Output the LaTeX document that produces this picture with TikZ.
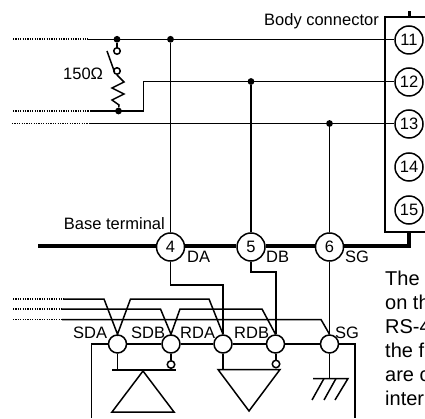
\documentclass[tikz,border=0pt]{standalone}
\usepackage{fontspec}
\setmainfont{Liberation Sans}
\tikzset{
  wire/.style={line width=1.5pt,line join=miter},
  bus/.style={line width=3.6pt},
  dots/.style={line width=1.6pt,dash pattern=on 1.2pt off 1.2pt},
  pin/.style={circle,draw,line width=1.5pt,fill=white,minimum size=28pt,inner sep=0pt,font=\fontsize{16.5}{18}\selectfont},
  port/.style={circle,draw,line width=1.5pt,fill=white,minimum size=18pt,inner sep=0pt},
  ring/.style={circle,draw,line width=1.5pt,fill=white,minimum size=7.5pt,inner sep=0pt},
  joint/.style={circle,fill=black,minimum size=6.8pt,inner sep=0pt},
  lbl/.style={inner sep=0pt,font=\fontsize{16.5}{18}\selectfont,text=black},
  para/.style={anchor=base west,inner sep=0pt,font=\fontsize{20}{24}\selectfont,text=black}
}
\begin{document}
\begin{tikzpicture}[x=1pt,y=-1pt]
\useasboundingbox (0,0) rectangle (425,419);
% body connector
\coordinate (bodyTL) at (385,17);
\coordinate (bodyTR) at (425,17);
\coordinate (bodyBL) at (385,232);
\coordinate (bodyBR) at (425,232);
\coordinate (tabB) at (409,17);
\coordinate (tabT) at (409,11);
\draw[wire] (bodyTR) -- (bodyTL) -- (bodyBL) -- (bodyBR);
\draw[line width=3pt] (tabB) -- (tabT);
\node[pin] (p11) at (409,40) {11};
\node[pin] (p12) at (409,82) {12};
\node[pin] (p13) at (409,124) {13};
\node[pin] (p14) at (409,167) {14};
\node[pin] (p15) at (409,210) {15};
% base terminal
\node[pin] (p4) at (170.5,247) {4};
\node[pin] (p5) at (251,247) {5};
\node[pin] (p6) at (329.5,247) {6};
\coordinate (busL) at (38,246);
\coordinate (busC) at (409,246);
\coordinate (busT) at (409,232);
\draw[bus] (busL) -- (p4.west |- busL);
\draw[bus] (p4.east |- busL) -- (p5.west |- busL);
\draw[bus] (p5.east |- busL) -- (p6.west |- busL);
\draw[bus] (p6.east |- busL) -- (busC) -- (busT);
% top wires
\coordinate (a0) at (13,39.3);
\coordinate (a1) at (88,39.3);
\coordinate (b0) at (13,111);
\coordinate (b1) at (91,111);
\coordinate (b2) at (143.5,111);
\coordinate (b3) at (143.5,81.5);
\coordinate (c0) at (12,123.5);
\coordinate (c1) at (90,123.5);
\draw[dots] (a0) -- (a1);
\draw[dots] (b0) -- (b1);
\draw[dots] (c0) -- (c1);
\draw[wire] (a1) -- (a1 -| p11.west);
\draw[wire] (b1) -- (b2) -- (b3) -- (b3 -| p12.west);
\draw[wire] (c1) -- (c1 -| p13.west);
\node[joint] (ja) at (117,39.3) {};
\node[joint] (jd) at (170.5,39.3) {};
\node[joint] (jb) at (118.5,111) {};
\node[joint] (je) at (251,81.5) {};
\node[joint] (jf) at (329.5,123.5) {};
\draw[wire] (jd) -- (p4);
\draw[wire] (je) -- (p5);
\draw[wire] (jf) -- (p6);
% switch and resistor
\node[ring,minimum size=6.5pt] (s1) at (117,51) {};
\node[ring,minimum size=6.5pt] (s2) at (117,71) {};
\coordinate (armT) at (107,51);
\coordinate (armB) at (114.5,72);
\draw[wire] (ja) -- (s1);
\draw[wire] (armT) -- (armB);
\draw[wire] (s2.south) -- (124,82) -- (112,88) -- (124,94) -- (112,100) -- (119,105) -- (jb);
\node[lbl,anchor=base west] (ohm) at (63,80) {150Ω};
\node[lbl,anchor=base east] (bodyL) at (379,26) {Body connector};
\node[lbl,anchor=base east] (baseL) at (165,230) {Base terminal};
\node[lbl,anchor=base west] (daL) at (187,262.5) {DA};
\node[lbl,anchor=base west] (dbL) at (266,262.5) {DB};
\node[lbl,anchor=base west] (sgL) at (345,262.5) {SG};
% interface box and ports
\node[port] (sda) at (117.5,344) {};
\node[port] (sdb) at (171,344) {};
\node[port] (rda) at (223,344) {};
\node[port] (rdb) at (275.5,344) {};
\node[port] (sg) at (329.5,344) {};
\coordinate (boxBL) at (91.7,418);
\coordinate (boxTL) at (91.7,344);
\coordinate (boxTR) at (355,344);
\coordinate (boxBR) at (355,418);
\draw[wire] (boxBL) -- (boxTL) -- (sda.west);
\draw[wire] (sda.east) -- (sdb.west);
\draw[wire] (sdb.east) -- (rda.west);
\draw[wire] (rda.east) -- (rdb.west);
\draw[wire] (rdb.east) -- (sg.west);
\draw[wire] (sg.east) -- (boxTR) -- (boxBR);
\node[lbl,anchor=base west] (lsda) at (73,338) {SDA};
\node[lbl,anchor=base west] (lsdb) at (131,338) {SDB};
\node[lbl,anchor=base west] (lrda) at (180,338) {RDA};
\node[lbl,anchor=base west] (lrdb) at (234,338) {RDB};
\node[lbl,anchor=base west] (lsg) at (335,338) {SG};
% base to ports
\coordinate (k4a) at (170.5,285);
\coordinate (k4b) at (223,285);
\coordinate (k5a) at (251,272);
\coordinate (k5b) at (276,272);
\draw[wire] (p4.south) -- (k4a) -- (k4b) -- (rda.north);
\draw[wire] (p5.south) -- (k5a) -- (k5b) -- (rdb.north -| k5b);
\draw[wire] (p6.south) -- (sg.north);
% incoming bundle
\coordinate (d0) at (13,299);
\coordinate (d1) at (64,299);
\coordinate (d2) at (104,299);
\coordinate (d3) at (130.5,299);
\coordinate (d4) at (209,299);
\coordinate (e0) at (13,309);
\coordinate (e1) at (62,309);
\coordinate (e2) at (160.5,309);
\coordinate (e3) at (180,309);
\coordinate (e4) at (262,309);
\coordinate (f0) at (13,319.5);
\coordinate (f1) at (62,319.5);
\coordinate (f2) at (321,319.5);
\draw[dots] (d0) -- (d1);
\draw[dots] (e0) -- (e1);
\draw[dots] (f0) -- (f1);
\draw[wire] (d1) -- (d2) -- (sda.north) -- (d3) -- (d4) -- (rda.north);
\draw[wire] (e1) -- (e2) -- (sdb.north) -- (e3) -- (e4) -- (rdb.north);
\draw[wire] (f1) -- (f2) -- (sg.north);
% driver
\coordinate (drvL) at (112,370);
\coordinate (drvR) at (176,370);
\coordinate (drvA) at (143,371);
\coordinate (drvBL) at (112,412);
\coordinate (drvBR) at (174,412);
\node[ring] (rsdb) at (171,364.5) {};
\draw[wire] (sda.south) -- (sda.south |- drvL);
\draw[wire] (sdb.south) -- (rsdb.north);
\draw[wire] (drvL) -- (drvR);
\draw[wire] (drvA) -- (drvBL) -- (drvBR) -- cycle;
% receiver
\coordinate (rcvL) at (218,369.5);
\coordinate (rcvR) at (280,369.5);
\coordinate (rcvA) at (249,411);
\node[ring] (rrdb) at (276,364) {};
\draw[wire] (rda.south) -- (rda.south |- rcvL);
\draw[wire] (rdb.south -| rrdb) -- (rrdb.north);
\draw[wire] (rcvL) -- (rcvR) -- (rcvA) -- cycle;
% ground
\coordinate (gL) at (313,378.5);
\coordinate (gR) at (348,378.5);
\coordinate (h1t) at (324,378.5);
\coordinate (h1b) at (312,400);
\coordinate (h2t) at (336,378.5);
\coordinate (h2b) at (324,400);
\coordinate (h3b) at (335,400);
\draw[wire] (sg.south) -- (sg.south |- gL);
\draw[wire] (gL) -- (gR) -- (h3b);
\draw[wire] (h1t) -- (h1b);
\draw[wire] (h2t) -- (h2b);
% cut-off paragraph
\node[para] (t1) at (385,285) {The};
\node[para] (t2) at (385,309.5) {on th};
\node[para] (t3) at (385,333.5) {RS-4};
\node[para] (t4) at (385,357.5) {the f};
\node[para] (t5) at (385,381.5) {are c};
\node[para] (t6) at (385,405.5) {inter};
\end{tikzpicture}
\end{document}
